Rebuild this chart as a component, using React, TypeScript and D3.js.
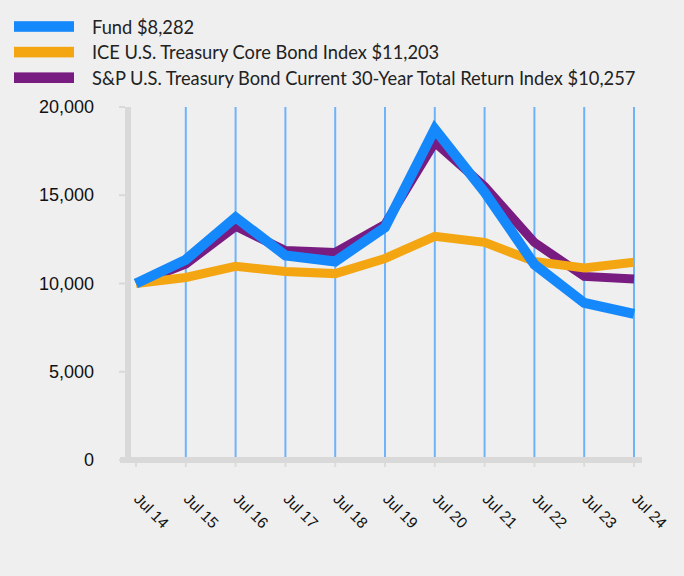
import React from "react";
import * as d3 from "d3";

const categories = ["Jul 14", "Jul 15", "Jul 16", "Jul 17", "Jul 18", "Jul 19", "Jul 20", "Jul 21", "Jul 22", "Jul 23", "Jul 24"];
const fundValues = [10000, 11350, 13750, 11590, 11250, 13180, 18750, 15170, 11080, 8900, 8282];
const iceValues = [10000, 10340, 10970, 10680, 10560, 11420, 12670, 12330, 11250, 10880, 11203];
const spValues = [10000, 11100, 13240, 11870, 11760, 13350, 18000, 15500, 12330, 10400, 10257];
const yTicks = [0, 5000, 10000, 15000, 20000];

const seriesList = [
  { name: "Fund $8,282", values: fundValues, color: "#1589fb", width: 10 },
  { name: "ICE U.S. Treasury Core Bond Index $11,203", values: iceValues, color: "#f4a512", width: 9 },
  { name: "S&P U.S. Treasury Bond Current 30-Year Total Return Index $10,257", values: spValues, color: "#781c81", width: 9 },
];
const drawOrder = [2, 1, 0];

const tickFont = "'Liberation Sans', Arial, Helvetica, sans-serif";

export default function App() {
  const W = 684, H = 576;
  const x = d3.scalePoint<string>().domain(categories).range([136, 634]);
  const y = d3.scaleLinear().domain([0, 20000]).range([460, 107]);
  const fmt = d3.format(",");
  const line = d3
    .line<number>()
    .x((_, i) => x(categories[i]) as number)
    .y((d) => y(d));

  return (
    <svg width={W} height={H} style={{ position: "absolute", left: 0, top: 0, background: "#efefef" }}>
      <rect width={W} height={H} fill="#efefef" />
      {/* legend */}
      {seriesList.map((s, i) => (
        <g key={s.name} transform={`translate(0, ${26.5 + i * 25.6})`}>
          <rect x={14} y={-5.3} width={60} height={10.6} fill={s.color} />
          <text x={92} y={0} dominantBaseline="central" style={{ fontFamily: "Lato, sans-serif", fontSize: "18.3px" }} fill="#222">
            {s.name}
          </text>
        </g>
      ))}
      {/* gridlines */}
      {categories.slice(1).map((c) => (
        <line key={c} x1={x(c)} x2={x(c)} y1={107} y2={457} stroke="#6db3fa" strokeWidth={2} />
      ))}
      {/* y axis */}
      <line x1={128} x2={128} y1={107} y2={460} stroke="#d9d9d9" strokeWidth={6} />
      {yTicks.map((t) => (
        <g key={t}>
          <line x1={119} x2={125} y1={y(t)} y2={y(t)} stroke="#d9d9d9" strokeWidth={2} />
          <text x={94} y={y(t)} textAnchor="end" dominantBaseline="central" style={{ fontFamily: tickFont, fontSize: "18px" }} fill="#111">
            {fmt(t)}
          </text>
        </g>
      ))}
      {/* x axis */}
      <line x1={120} x2={642} y1={460} y2={460} stroke="#d9d9d9" strokeWidth={6} />
      {categories.map((c) => (
        <g key={c}>
          <line x1={x(c)} x2={x(c)} y1={463} y2={467} stroke="#dcdcdc" strokeWidth={2} />
          <text
            transform={`translate(${(x(c) as number) - 3}, 500) rotate(45)`}
            style={{ fontFamily: tickFont, fontSize: "15.5px" }}
            fill="#111"
          >
            {c}
          </text>
        </g>
      ))}
      {/* lines */}
      {drawOrder.map((idx) => {
        const s = seriesList[idx];
        return (
          <path key={s.name} d={line(s.values) || ""} fill="none" stroke={s.color} strokeWidth={s.width} strokeLinejoin="miter" />
        );
      })}
    </svg>
  );
}
